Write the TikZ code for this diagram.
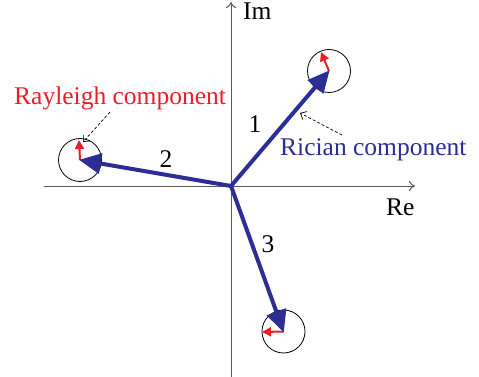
\documentclass[tikz,border=0pt]{standalone}
\usepackage{fontspec}
\setmainfont{Liberation Serif}
\usetikzlibrary{arrows.meta}
\definecolor{ricblue}{RGB}{45,45,150}
\definecolor{rayred}{RGB}{235,30,40}
\definecolor{axisgrey}{RGB}{90,90,90}
\tikzset{
  axis/.style={draw=axisgrey, line width=1pt, -{To[length=6pt,width=10pt]}},
  ric/.style={draw=ricblue, line width=4pt, -{Triangle[length=22pt,width=20pt]}, shorten >=-1pt},
  ray/.style={draw=rayred, line width=2pt, -{Triangle[length=9pt,width=9pt]}},
  ring/.style={circle, draw=black, line width=0.8pt, minimum size=43pt, inner sep=0pt},
  pointer/.style={draw=black, line width=0.7pt, dashed, dash pattern=on 3pt off 2pt, -{Straight Barb[length=5pt,width=9pt]}},
  lbl/.style={font=\fontsize{25.5}{28}\selectfont, inner sep=0pt, anchor=base west},
  num/.style={font=\fontsize{25.5}{28}\selectfont, inner sep=0pt, anchor=base}
}
\begin{document}
\begin{tikzpicture}[x=1pt,y=-1pt]
\useasboundingbox (0,0) rectangle (479,377);
% axes
\coordinate (O) at (231,186);
\coordinate (xl) at (44,186);
\coordinate (xr) at (415,186);
\coordinate (yb) at (231,377);
\coordinate (yt) at (231,2);
\draw[axis] (xl) -- (xr);
\draw[axis] (yb) -- (yt);
\node[lbl] (im) at (243,19.5) {Im};
\node[lbl] (re) at (386,215) {Re};
% circles
\node[ring] (c1) at (329,71) {};
\node[ring] (c2) at (80,160) {};
\node[ring] (c3) at (283.5,331.5) {};
% Rayleigh (red) components
\coordinate (r1) at (321,52);
\coordinate (r2) at (79,140);
\coordinate (r3) at (262,332);
\draw[ray] (c1.center) -- (r1);
\draw[ray] (c2.center) -- (r2);
\draw[ray] (c3.center) -- (r3);
% Rician (blue) components
\draw[ric] (O) -- (c1.center);
\draw[ric] (O) -- (c2.center);
\draw[ric] (O) -- (c3.center);
% numbers
\node[num] (n1) at (255,132) {1};
\node[num] (n2) at (166,167) {2};
\node[num] (n3) at (268,252) {3};
% labels
\node[lbl, text=rayred] (rayl) at (14,105) {Rayleigh component};
\node[lbl, text=ricblue] (ricl) at (280,156) {Rician component};
\coordinate (p2s) at (110,112);
\coordinate (p2e) at (83,142);
\draw[pointer] (p2s) -- (p2e);
\coordinate (p1s) at (342,135);
\coordinate (p1e) at (300,113);
\draw[pointer] (p1s) -- (p1e);
\end{tikzpicture}
\end{document}
